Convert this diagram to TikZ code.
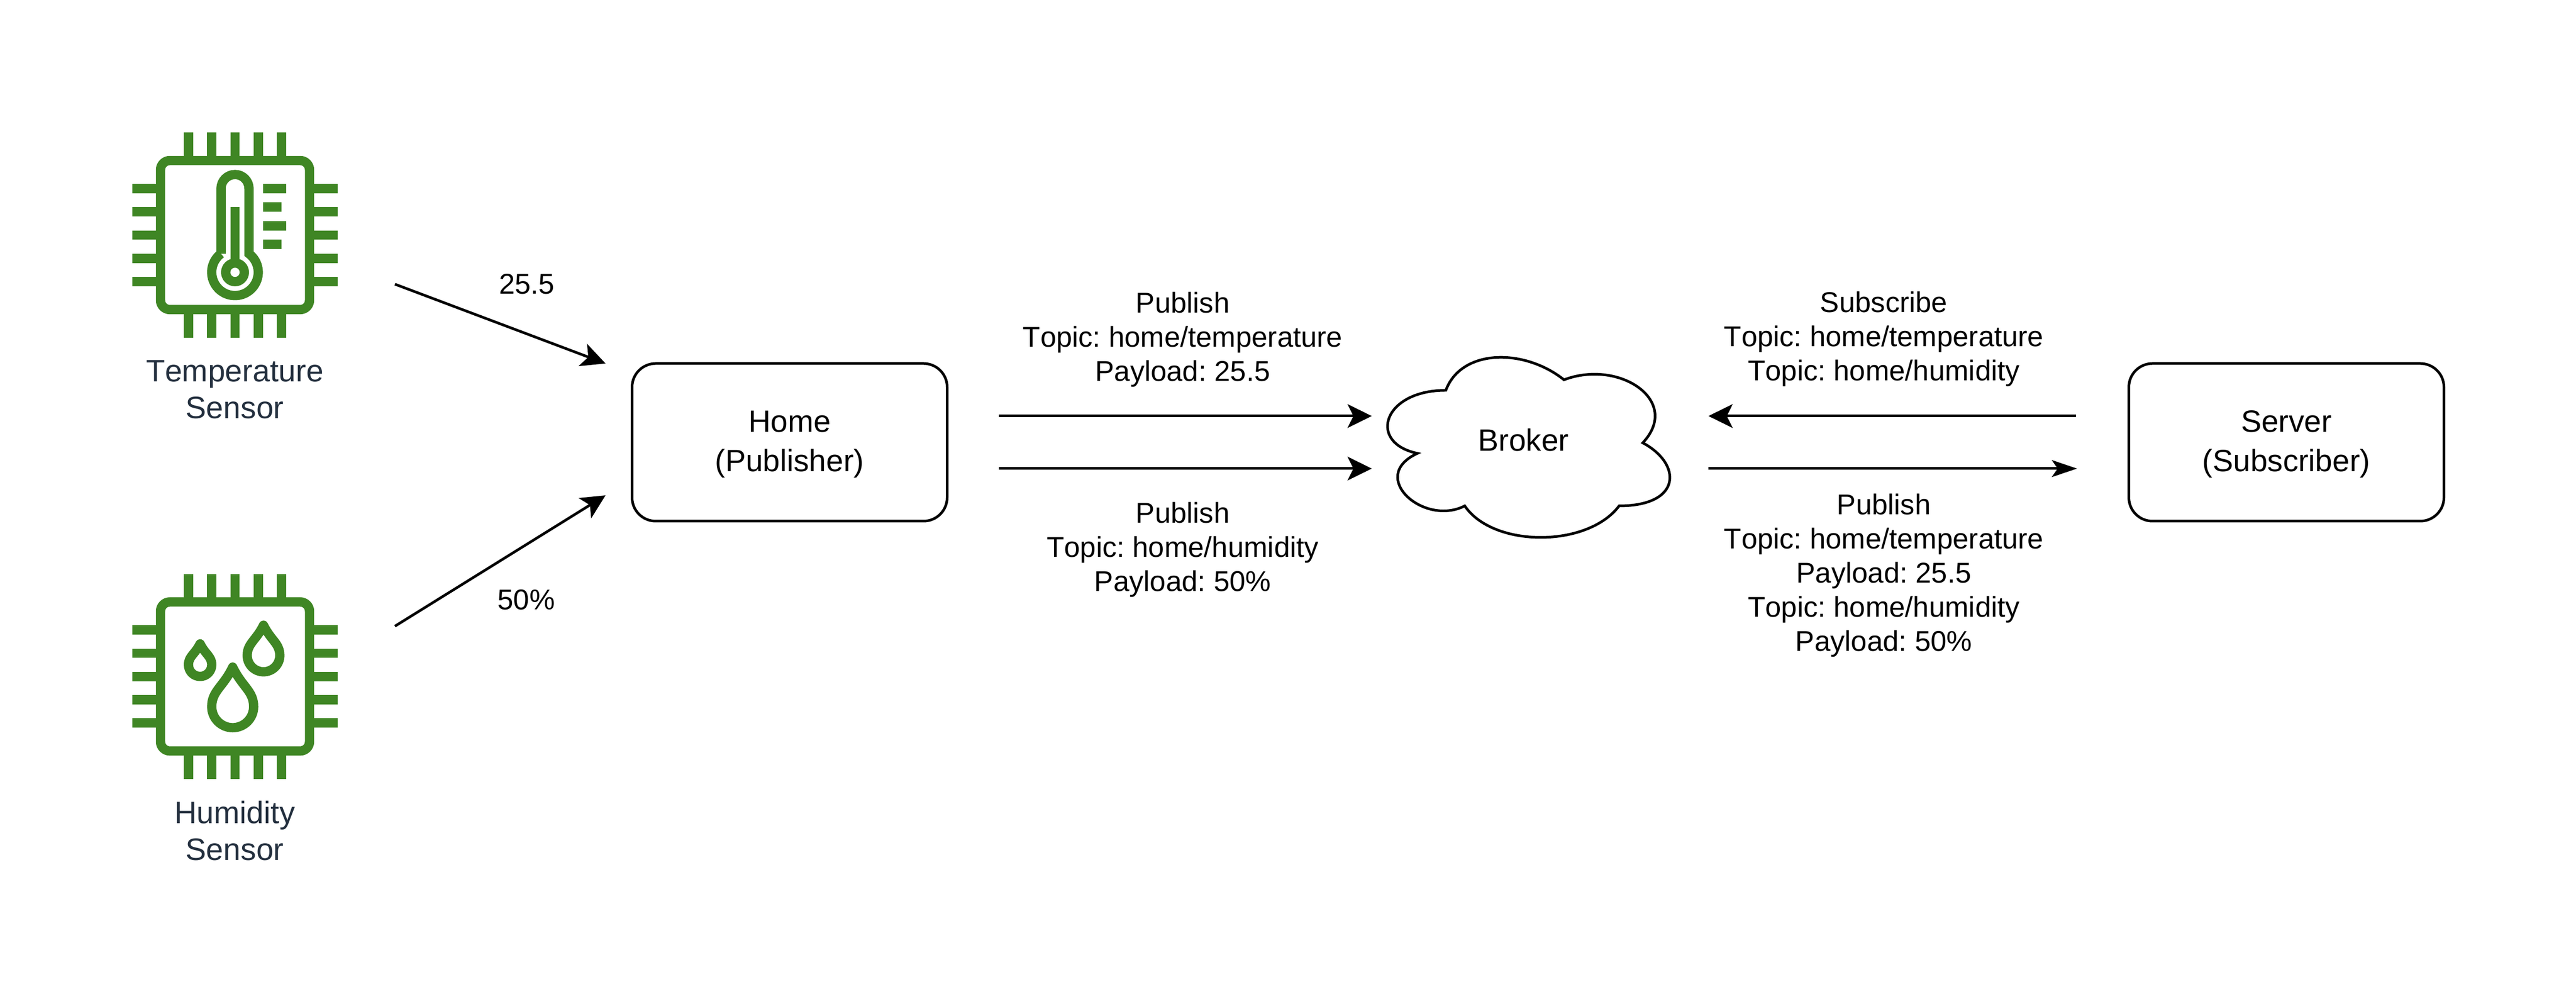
\documentclass[tikz,border=0pt]{standalone}
\usepackage{fontspec}
\setmainfont{Liberation Sans}[Kerning=Off]
\frenchspacing
\usetikzlibrary{arrows.meta}
\definecolor{chipgreen}{HTML}{3F8624}
\definecolor{sensorink}{HTML}{232F3E}
\newcommand{\droplet}[4]{%
	\draw[chipline,line join=round] ({#1},{#2+#4})
	.. controls ({#1+0.45*#3},{#2+0.5*#4}) and ({#1+#3},{#2+0.4*#4}) .. ({#1+#3},{#2})
	arc (0:-180:#3)
	.. controls ({#1-#3},{#2+0.4*#4}) and ({#1-0.45*#3},{#2+0.5*#4}) .. cycle;}
\newcommand{\boxtop}{\rule{0pt}{4.8mm}}
\tikzset{
	%Define standard arrow tip
	>={Stealth[length=4.6mm,width=4.5mm,inset=1.1mm]},
	%Define style for boxes
	endbox/.style={
		rectangle,
		rounded corners=4.5mm,
		draw=black, line width=1.42pt,
		minimum width=6cm,
		minimum height=3cm,
		align=center,
		font=\fontsize{16.7}{21.3}\selectfont},
	% Define arrow style
	pil/.style={
		->,
		line width=1.42pt},
	thinpil/.style={
		-{Stealth[length=4.8mm,width=3.2mm,inset=1.1mm]},
		line width=1.42pt},
	% Text beside the arrows and under the chips
	msg/.style={align=center,inner sep=0,font=\fontsize{15.5}{18.5}\selectfont},
	sensorlabel/.style={align=center,inner sep=0,text=sensorink,font=\fontsize{16.8}{19.9}\selectfont},
	chipline/.style={draw=chipgreen,line width=5.03pt},
	chip/.pic={
		\draw[chipline,rounded corners=1.773mm] (-8,-8) rectangle (8,8);
		\foreach \p in {-5,-2.5,0,2.5,5} {
			\draw[chipline] (\p,8) -- (\p,11);
			\draw[chipline] (\p,-8) -- (\p,-11);
			\draw[chipline] (-8,\p) -- (-11,\p);
			\draw[chipline] (8,\p) -- (11,\p);
		}
	},
	thermo/.pic={
		\draw[chipline] (-1.5,-2) -- (-1.5,5) arc (180:0:1.5) -- (1.5,-2) arc (53:-233:2.5);
		\draw[chipline] (0,3) -- (0,-3);
		\draw[chipline] (0,-4) circle (1);
		\draw[chipline] (3,5) -- (5.5,5);
		\draw[chipline] (3,3) -- (5,3);
		\draw[chipline] (3,1) -- (5.5,1);
		\draw[chipline] (3,-1) -- (5,-1);
	}
}
\begin{document}
\begin{tikzpicture}
	\useasboundingbox (0,0) rectangle (49.05,19.15);
	% sensors
	\pic[scale=0.1773] at (4.475,14.675) {chip};
	\pic[scale=0.1773] at (4.475,14.675) {thermo};
	\pic[scale=0.1773] at (4.475,6.273) {chip};
	\begin{scope}[shift={(4.475,6.273)},scale=0.1773]
		\droplet{-0.25}{-3.25}{2.25}{4.25}
		\droplet{3.06}{2.25}{1.75}{3.25}
		\droplet{-3.75}{1.25}{1.25}{2.25}
	\end{scope}
	\node[sensorlabel] (tempsensor) at (4.47,11.735) {Temperature\\Sensor};
	\node[sensorlabel] (humsensor) at (4.47,3.34) {Humidity\\Sensor};
	% boxes
	\node[endbox] (home) at (15.035,10.73) {\boxtop Home\\(Publisher)};
	\node[endbox] (server) at (43.535,10.73) {\boxtop Server\\(Subscriber)};
	% cloud
	\draw[line width=1.42pt] (27.53,11.72)
		.. controls (26.33,11.72) and (26.03,10.72) .. (26.99,10.52)
		.. controls (26.03,10.08) and (27.11,9.12) .. (27.89,9.52)
		.. controls (28.43,8.72) and (30.23,8.72) .. (30.83,9.52)
		.. controls (32.03,9.52) and (32.03,10.32) .. (31.28,10.72)
		.. controls (32.03,11.52) and (30.83,12.32) .. (29.78,11.92)
		.. controls (29.03,12.52) and (27.83,12.52) .. cycle;
	\node[anchor=base,inner sep=0,font=\fontsize{16.7}{19.9}\selectfont] (broker) at (29.01,10.56) {Broker};
	% free ends of the arrows
	\coordinate (tempout) at (7.52,13.74);
	\coordinate (tempin) at (11.53,12.23);
	\coordinate (humout) at (7.52,7.23);
	\coordinate (humin) at (11.53,9.72);
	\coordinate (pubA) at (19.02,11.23);
	\coordinate (pubAend) at (26.12,11.23);
	\coordinate (pubB) at (19.02,10.23);
	\coordinate (pubBend) at (26.12,10.23);
	\coordinate (subA) at (39.53,11.23);
	\coordinate (subAend) at (32.53,11.23);
	\coordinate (subB) at (32.53,10.23);
	\coordinate (subBend) at (39.55,10.23);
	\draw[pil] (tempout) -- (tempin);
	\draw[pil] (humout) -- (humin);
	\draw[pil] (pubA) -- (pubAend);
	\draw[pil] (pubB) -- (pubBend);
	\draw[pil] (subA) -- (subAend);
	\draw[thinpil] (subB) -- (subBend);
	% labels
	\node[msg,anchor=base] (val1) at (10.03,13.55) {25.5};
	\node[msg,anchor=base] (val2) at (10.02,7.543) {50\%};
	\node[msg] (pubtext1) at (22.52,12.69) {Publish\\Topic: home/temperature\\Payload: 25.5};
	\node[msg] (pubtext2) at (22.52,8.69) {Publish\\Topic: home/humidity\\Payload: 50\%};
	\node[msg] (subtext) at (35.87,12.70) {Subscribe\\Topic: home/temperature\\Topic: home/humidity};
	\node[msg] (fwdtext) at (35.87,8.20) {Publish\\Topic: home/temperature\\Payload: 25.5\\Topic: home/humidity\\Payload: 50\%};
\end{tikzpicture}
\end{document}
